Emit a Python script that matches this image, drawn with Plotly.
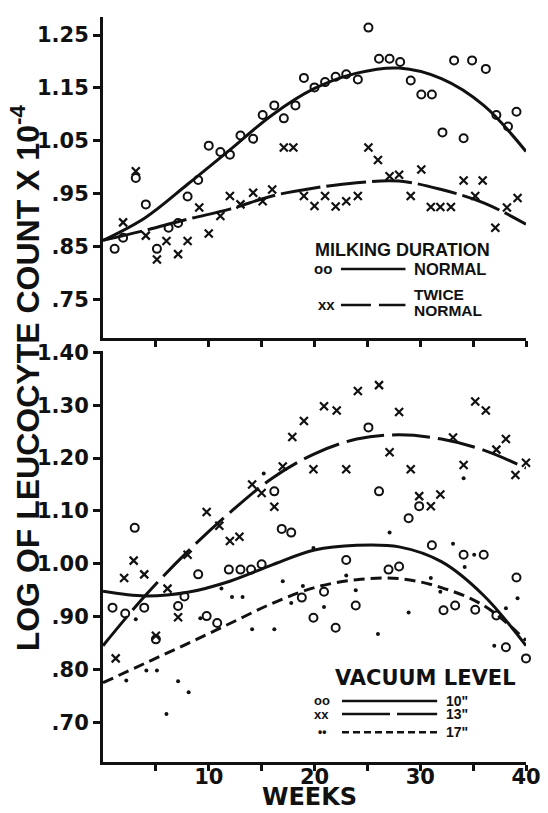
import plotly.graph_objects as go

# ---------------- Top panel: milking duration ----------------
normal_weeks = [1.1, 1.9, 3.1, 4.05, 5.1, 6.2, 7.1, 8.0, 9.0, 10.0, 11.1, 12.0, 13.0, 14.2,
                15.1, 16.2, 17.1, 18.2, 19.0, 20.0, 21.0, 22.0, 23.0, 24.1, 25.1, 26.1,
                27.1, 28.1, 29.1, 30.1, 31.1, 32.1, 33.2, 34.1, 34.9, 36.2, 37.2, 38.3,
                39.1, 40.1]
normal_vals = [0.846, 0.867, 0.980, 0.930, 0.846, 0.886, 0.895, 0.945, 0.976, 1.041, 1.029,
               1.024, 1.060, 1.054, 1.099, 1.117, 1.0925, 1.117, 1.169, 1.151, 1.161, 1.171,
               1.176, 1.166, 1.264, 1.205, 1.205, 1.199, 1.164, 1.1375, 1.1375, 1.066, 1.202,
               1.055, 1.202, 1.186, 1.099, 1.077, 1.105, 1.024]

twice_weeks = [1.9, 3.1, 4.05, 5.1, 6.0, 7.1, 8.0, 9.1, 10.0, 11.1, 12.0, 13.0, 14.2, 15.1,
               16.0, 17.1, 18.0, 19.0, 20.0, 21.0, 22.0, 23.0, 24.1, 25.1, 26.0, 27.1, 28.0,
               29.1, 30.1, 31.0, 31.9, 32.9, 34.1, 35.2, 35.9, 37.1, 38.2, 39.2, 40.1]
twice_vals = [0.896, 0.9925, 0.871, 0.826, 0.861, 0.836, 0.861, 0.924, 0.875, 0.908, 0.946,
              0.930, 0.952, 0.936, 0.958, 1.0375, 1.0375, 0.946, 0.927, 0.946, 0.926, 0.936,
              0.946, 1.0375, 1.014, 0.983, 0.986, 0.946, 0.996, 0.925, 0.925, 0.925, 0.975,
              0.946, 0.975, 0.886, 0.924, 0.942, 0.902]

curve_weeks = [0, 4, 8, 12, 16, 20, 24, 28, 32, 36, 40]
normal_curve = [0.862, 0.905, 0.968, 1.033, 1.099, 1.149, 1.178, 1.1875, 1.1675, 1.117, 1.030]
twice_curve = [0.862, 0.881, 0.902, 0.921, 0.946, 0.961, 0.971, 0.974, 0.958, 0.933, 0.8925]

# ---------------- Bottom panel: vacuum level ----------------
v10_weeks = [0.9, 2.1, 3.0, 3.9, 5.0, 7.1, 7.7, 9.0, 9.8, 10.8, 11.9, 13.0, 14.0, 15.0, 16.2,
             16.9, 17.8, 18.8, 19.9, 20.9, 22.0, 23.0, 23.9, 25.1, 26.1, 27.0, 28.0, 28.9,
             29.9, 31.1, 32.2, 33.3, 34.1, 35.2, 36.0, 37.2, 38.1, 39.1, 40.0]
v10_vals = [0.917, 0.906, 1.068, 0.917, 0.857, 0.920, 0.938, 0.980, 0.901, 0.888, 0.989,
            0.989, 0.989, 0.999, 1.137, 1.066, 1.059, 0.936, 0.898, 0.947, 0.879, 1.007,
            0.921, 1.258, 1.137, 0.989, 0.995, 1.086, 1.109, 1.035, 0.912, 0.921, 1.017,
            0.913, 1.017, 0.902, 0.842, 0.974, 0.821]

v13_weeks = [1.2, 2.0, 2.9, 3.9, 5.0, 6.1, 7.1, 8.0, 9.8, 11.0, 12.0, 12.9, 14.1, 15.0, 16.2,
             17.0, 17.9, 19.0, 19.9, 20.9, 22.1, 23.0, 24.1, 26.1, 27.1, 28.0, 29.1, 29.9,
             31.0, 31.9, 33.1, 34.1, 35.2, 36.2, 37.2, 38.1, 39.0, 40.0]
v13_vals = [0.821, 0.973, 1.006, 0.980, 0.864, 0.953, 0.899, 1.017, 1.098, 1.072, 1.043,
            1.051, 1.150, 1.134, 1.108, 1.184, 1.240, 1.270, 1.179, 1.298, 1.290, 1.179,
            1.327, 1.338, 1.211, 1.287, 1.179, 1.128, 1.109, 1.131, 1.239, 1.187, 1.307,
            1.290, 1.216, 1.236, 1.168, 1.191]

v17_weeks = [2.2, 3.1, 4.1, 5.1, 6.0, 7.1, 8.1, 9.2, 11.2, 12.2, 13.2, 14.1, 15.2, 16.2, 17.0,
             17.8, 18.9, 19.9, 20.9, 23.0, 23.9, 26.0, 27.1, 28.9, 31.0, 31.9, 33.1, 34.1,
             34.2, 35.1, 37.0, 38.1, 39.2]
v17_vals = [0.779, 0.895, 0.798, 0.798, 0.716, 0.778, 0.757, 0.897, 0.953, 0.937, 0.937,
            0.876, 1.171, 0.876, 0.967, 0.926, 0.958, 1.030, 0.918, 0.978, 0.950, 0.867,
            1.059, 0.908, 0.973, 0.947, 1.038, 1.162, 0.994, 1.017, 0.845, 0.916, 0.935]

v10_curve = [0.948, 0.939, 0.946, 0.967, 0.998, 1.026, 1.035, 1.032, 1.004, 0.940, 0.845]
v13_curve = [0.845, 0.940, 1.023, 1.097, 1.162, 1.208, 1.236, 1.244, 1.236, 1.215, 1.181]
v17_curve = [0.775, 0.812, 0.849, 0.887, 0.925, 0.955, 0.970, 0.972, 0.955, 0.921, 0.855]

top_ticks = [0.75, 0.85, 0.95, 1.05, 1.15, 1.25]
top_ticktext = [".75", ".85", ".95", "1.05", "1.15", "1.25"]
bot_ticks = [0.70, 0.80, 0.90, 1.00, 1.10, 1.20, 1.30, 1.40]
bot_ticktext = [".70", ".80", ".90", "1.00", "1.10", "1.20", "1.30", "1.40"]
week_ticks = [5, 10, 15, 20, 25, 30, 35, 40]
week_label_ticks = [10, 20, 30, 40]
week_label_text = ["10", "20", "30", "40"]

INK = "#111111"
circ = dict(symbol="circle-open", size=8, color=INK, line=dict(width=2, color=INK))
cross = dict(symbol="x-thin-open", size=8, color=INK, line=dict(width=2.2, color=INK))
dot = dict(symbol="circle", size=4, color=INK, line=dict(width=0))

fig = go.Figure()
# top panel
fig.add_trace(go.Scatter(x=normal_weeks, y=normal_vals, mode="markers", marker=circ,
                         xaxis="x2", yaxis="y2", cliponaxis=False))
fig.add_trace(go.Scatter(x=twice_weeks, y=twice_vals, mode="markers", marker=cross,
                         xaxis="x2", yaxis="y2", cliponaxis=False))
fig.add_trace(go.Scatter(x=curve_weeks, y=normal_curve, mode="lines",
                         line=dict(color=INK, width=3, shape="spline"), xaxis="x2", yaxis="y2"))
fig.add_trace(go.Scatter(x=curve_weeks, y=twice_curve, mode="lines",
                         line=dict(color=INK, width=3, shape="spline", dash="40px,6px"),
                         xaxis="x2", yaxis="y2"))
# bottom panel
fig.add_trace(go.Scatter(x=v10_weeks, y=v10_vals, mode="markers", marker=circ, cliponaxis=False))
fig.add_trace(go.Scatter(x=v13_weeks, y=v13_vals, mode="markers", marker=cross, cliponaxis=False))
fig.add_trace(go.Scatter(x=v17_weeks, y=v17_vals, mode="markers", marker=dot, cliponaxis=False))
fig.add_trace(go.Scatter(x=curve_weeks, y=v10_curve, mode="lines",
                         line=dict(color=INK, width=3, shape="spline")))
fig.add_trace(go.Scatter(x=curve_weeks, y=v13_curve, mode="lines",
                         line=dict(color=INK, width=3, shape="spline", dash="38px,8px")))
fig.add_trace(go.Scatter(x=curve_weeks, y=v17_curve, mode="lines",
                         line=dict(color=INK, width=3, shape="spline", dash="11px,6px")))

tickfont = dict(family="DejaVu Sans", size=21, color=INK, weight="bold")
axis_common = dict(showline=True, linewidth=3, linecolor=INK, showgrid=False, zeroline=False,
                   ticks="outside", tickwidth=2.5, tickcolor=INK, tickfont=tickfont)

fig.update_layout(
    width=548, height=813,
    margin=dict(l=103, r=18, t=7, b=51),
    paper_bgcolor="white", plot_bgcolor="white",
    showlegend=False,
    xaxis=dict(domain=[0, 1], range=[0, 40], anchor="y", tickvals=week_label_ticks,
               ticktext=week_label_text, ticklen=6, ticklabelstandoff=-12,
               minor=dict(tickvals=week_ticks, ticks="outside", ticklen=6, tickwidth=2.5,
                          tickcolor=INK, showgrid=False),
               **axis_common),
    yaxis=dict(domain=[0, 0.552], range=[0.625, 1.403], anchor="x", tickvals=bot_ticks,
               ticktext=bot_ticktext, ticklen=7, **axis_common),
    xaxis2=dict(domain=[0, 1], range=[0, 40], anchor="y2", tickvals=week_ticks,
                showticklabels=False, ticklen=6, **axis_common),
    yaxis2=dict(domain=[0.5687, 1], range=[0.677, 1.284], anchor="x2", tickvals=top_ticks,
                ticktext=top_ticktext, ticklen=7, **axis_common),
)

lib = "Liberation Sans"
def ann(x, y, text, size, xref="x2", yref="y2", xanchor="center", yanchor="middle",
        family=lib, **kw):
    fig.add_annotation(x=x, y=y, xref=xref, yref=yref, text=text, showarrow=False,
                       xanchor=xanchor, yanchor=yanchor,
                       font=dict(family=family, size=size, color=INK, weight="bold"), **kw)

# axis titles
ann(-0.185, 0.516, "LOG OF LEUCOCYTE COUNT X 10<sup>-4</sup>", 32, xref="paper", yref="paper",
    textangle=-90)
ann(0.488, -0.0675, "WEEKS", 24, xref="paper", yref="paper", family="DejaVu Sans",
    yanchor="bottom", borderpad=0)

# top legend
ann(28.3, 0.843, "MILKING DURATION", 18)
ann(20.8, 0.808, "oo", 15)
ann(29.2, 0.808, "NORMAL", 16.5, xanchor="left")
ann(21.1, 0.740, "xx", 15)
ann(29.2, 0.760, "TWICE", 15.5, xanchor="left")
ann(29.2, 0.730, "NORMAL", 15.5, xanchor="left")
fig.add_shape(type="line", xref="x2", yref="y2", x0=22.5, x1=28.6, y0=0.808, y1=0.808,
              line=dict(color=INK, width=2.5))
fig.add_shape(type="line", xref="x2", yref="y2", x0=22.5, x1=28.6, y0=0.740, y1=0.740,
              line=dict(color=INK, width=2.5, dash="30px,8px"))

# bottom legend
ann(30.5, 0.783, "VACUUM LEVEL", 21, xref="x", yref="y", family="DejaVu Sans")
ann(20.7, 0.7405, "oo", 13, xref="x", yref="y")
ann(20.7, 0.7157, "xx", 13, xref="x", yref="y")
ann(20.7, 0.6813, "••", 12, xref="x", yref="y")
ann(32.2, 0.7405, '10"', 14, xref="x", yref="y", xanchor="left")
ann(32.2, 0.7157, '13"', 14, xref="x", yref="y", xanchor="left")
ann(32.2, 0.6813, '17"', 14, xref="x", yref="y", xanchor="left")
fig.add_shape(type="line", xref="x", yref="y", x0=22.6, x1=31.6, y0=0.7405, y1=0.7405,
              line=dict(color=INK, width=2.5))
fig.add_shape(type="line", xref="x", yref="y", x0=22.6, x1=31.6, y0=0.7157, y1=0.7157,
              line=dict(color=INK, width=2.5, dash="48px,7px"))
fig.add_shape(type="line", xref="x", yref="y", x0=22.6, x1=31.6, y0=0.6813, y1=0.6813,
              line=dict(color=INK, width=2.5, dash="7px,4px"))

fig.write_html("out.html")
